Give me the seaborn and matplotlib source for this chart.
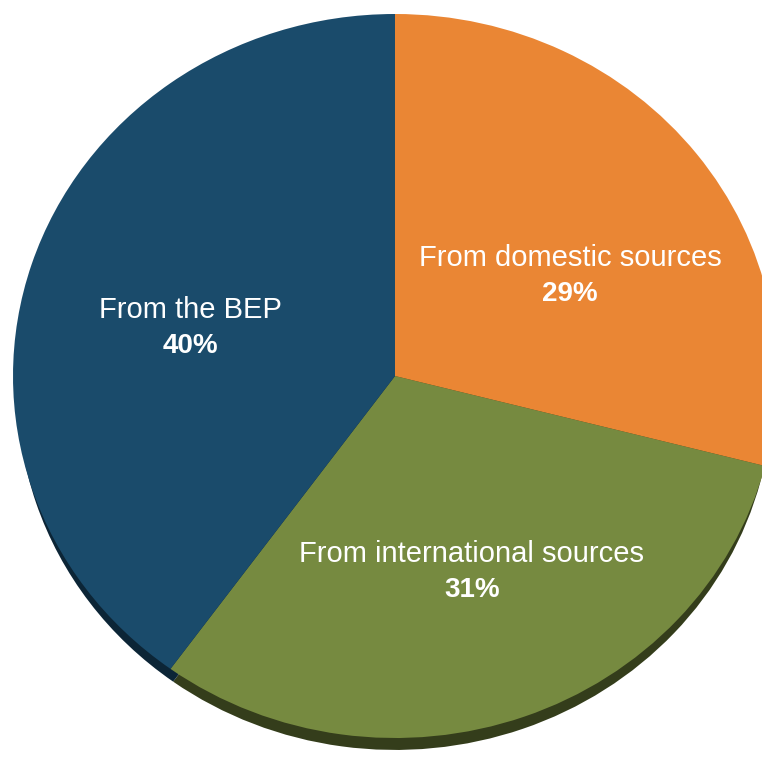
import numpy as np
import matplotlib
matplotlib.use("Agg")
import matplotlib.pyplot as plt
import seaborn as sns

sns.set_theme(style="white")
plt.rcParams['font.family'] = ['Liberation Sans', 'DejaVu Sans']

# Data
categories = ["From domestic sources", "From international sources", "From the BEP"]
values = [29, 31, 40]
pct_labels = ["29%", "31%", "40%"]
colors = ["#ea8634", "#768a40", "#1a4b6b"]
shadow_colors = ["#6e3e15", "#343d1b", "#0c2536"]

# label placement (relative to wedge mid-angle)
label_dist = [0.535, 0.578, 0.553]
label_angle_shift = [-6.8, 0.6, 4.0]

W, H = 762, 757
fig = plt.figure(figsize=(W / 100, H / 100), dpi=100)
ax = fig.add_axes([0, 0, 1, 1])

# pixel geometry of the ellipse
cx, cy = 395, 376
rx, ry = 382, 362

# shadow (extrusion visible mostly at the bottom)
ax.pie(values, colors=shadow_colors, startangle=90, counterclock=False,
       center=(0.0, -0.045), radius=0.988, wedgeprops=dict(linewidth=0, zorder=1))
wedges, _ = ax.pie(values, colors=colors, startangle=90, counterclock=False,
                   center=(0, 0), radius=1,
                   wedgeprops=dict(linewidth=0, zorder=2))

ax.set_aspect('auto')
ax.set_xlim(-cx / rx, (W - cx) / rx)
ax.set_ylim(-(H - cy) / ry, cy / ry)
ax.axis('off')

for w, name, pct, d, sh in zip(wedges, categories, pct_labels, label_dist, label_angle_shift):
    mid = np.deg2rad((w.theta1 + w.theta2) / 2 + sh)
    x, y = d * np.cos(mid), d * np.sin(mid)
    ax.annotate(name, (x, y), xytext=(0, 13), textcoords='offset points',
                ha='center', va='center', color='white', fontsize=21, zorder=5)
    ax.annotate(pct, (x, y), xytext=(0, -13), textcoords='offset points',
                ha='center', va='center', color='white', fontsize=20,
                fontweight='bold', zorder=5)

fig.savefig("out.png", dpi=100, facecolor="white")
